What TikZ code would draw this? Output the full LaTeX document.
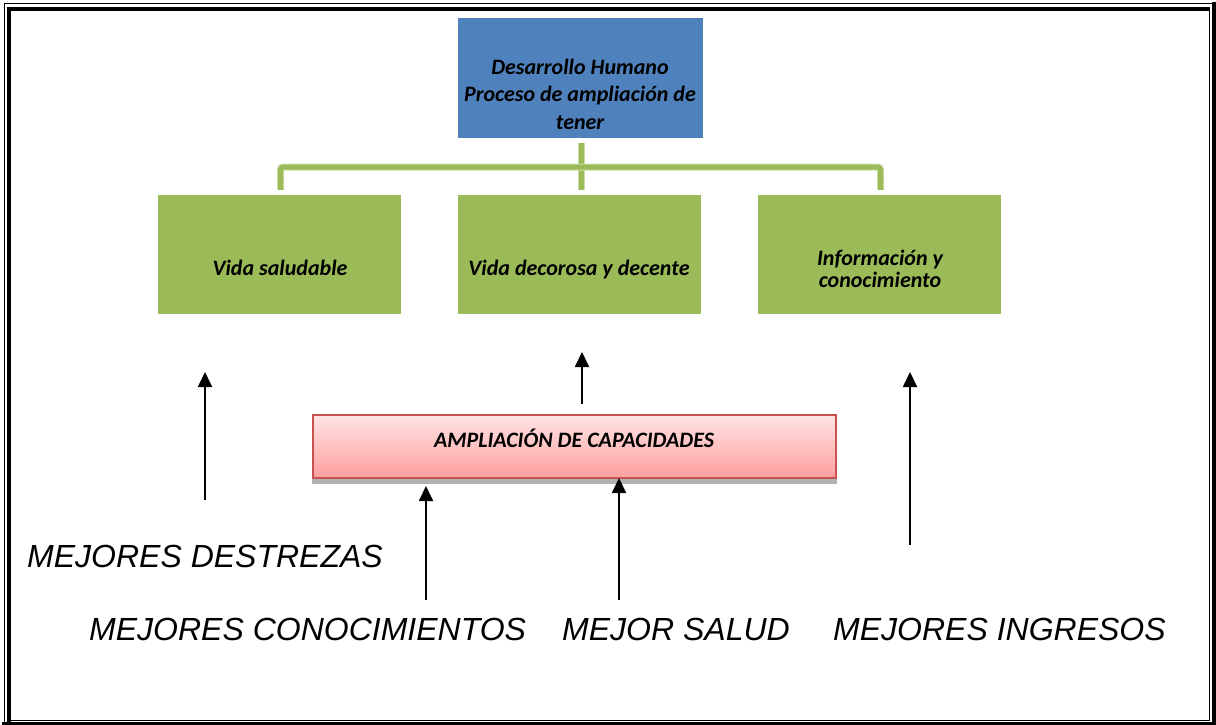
\documentclass[tikz,border=0pt]{standalone}
\usepackage{fontspec}
\setmainfont{Liberation Sans}
\newfontfamily\boxfont{Carlito}
\usetikzlibrary{arrows.meta}
\definecolor{hblue}{HTML}{4F81BD}
\definecolor{hgreen}{HTML}{9BBB59}
\definecolor{hgreenlight}{HTML}{C9DCA5}
\definecolor{pinktop}{HTML}{FFE4E4}
\definecolor{pinkbot}{HTML}{FF9E9E}
\definecolor{pinkline}{HTML}{C8524F}
\begin{document}
\begin{tikzpicture}[x=1pt,y=-1pt,
  bigtxt/.style={font=\itshape\fontsize{32}{38}\selectfont, inner sep=0pt, anchor=base west},
  boxtxt/.style={font=\boxfont\bfseries\itshape\fontsize{22}{27.5}\selectfont, inner sep=0pt, align=center},
  greenbox/.style={fill=hgreen, minimum width=243pt, minimum height=119pt, inner sep=0pt},
  bluebox/.style={fill=hblue, minimum width=245pt, minimum height=120pt, inner sep=0pt},
  pinkbox/.style={draw=pinkline, line width=1.2pt, top color=pinktop, bottom color=pinkbot, minimum width=523pt, minimum height=63pt, inner sep=0pt},
  conn/.style={draw=hgreenlight, line width=1pt, double=hgreen, double distance=5pt, rounded corners=3pt},
  uparrow/.style={line width=1.8pt, -{Triangle[width=14pt,length=15pt]}},
  framethin/.style={line width=1pt},
  framethick/.style={line width=4pt},
]
\useasboundingbox (0,0) rectangle (1216,725);
\fill[white] (0,0) rectangle (1216,725);

% frame
\draw[framethin] (4,725) -- (4,4) -- (1216,4);
\draw[framethick] (9,722) -- (9,9) -- (1210,9);
\draw[framethin] (1209.5,9) -- (1209.5,720) -- (9,720);
\draw[framethick] (1213.5,2) -- (1213.5,724) -- (2,724);

% top box
\node[bluebox] (dh) at (580,78) {};
\node[boxtxt] (dhtext) at (580,94) {Desarrollo Humano\\Proceso de ampliación de\\tener};

% green boxes
\node[greenbox] (vs) at (279.5,254.5) {};
\node[greenbox] (vd) at (579.5,254.5) {};
\node[greenbox] (ic) at (879.5,254.5) {};
\node[boxtxt, anchor=base] (vstext) at (280,275) {Vida saludable};
\node[boxtxt, anchor=base] (vdtext) at (579,275) {Vida decorosa y decente};
\node[boxtxt, font=\boxfont\bfseries\itshape\fontsize{22}{22.5}\selectfont] (ictext) at (880,269) {Información y\\conocimiento};

% connectors
\coordinate (hub) at (581,167);
\draw[conn] ([yshift=-5pt]dh.south -| hub) -- ([yshift=5pt]vd.north -| hub);
\draw[conn] ([xshift=1pt,yshift=5pt]vs.north) |- (hub) -| ([xshift=1pt,yshift=5pt]ic.north);

% pink box
\node[pinkbox] (amp) at (574.5,446.5) {};
\fill[gray!60] ([yshift=-0.6pt]amp.south west) rectangle ([yshift=-5pt]amp.south east);
\node[boxtxt, anchor=base] (amptext) at (574,447) {AMPLIACIÓN DE CAPACIDADES};

% arrows
\coordinate (a1s) at (205,500); \coordinate (a1e) at (205,372);
\coordinate (a2s) at (582,404); \coordinate (a2e) at (582,352);
\coordinate (a3s) at (910,545); \coordinate (a3e) at (910,372);
\coordinate (a4s) at (426,600); \coordinate (a4e) at (426,486);
\coordinate (a5s) at (619,600); \coordinate (a5e) at (619,478);
\draw[uparrow] (a1s) -- (a1e);
\draw[uparrow] (a2s) -- (a2e);
\draw[uparrow] (a3s) -- (a3e);
\draw[uparrow] (a4s) -- (a4e);
\draw[uparrow] (a5s) -- (a5e);

% labels
\node[bigtxt] (l1) at (27,567) {MEJORES DESTREZAS};
\node[bigtxt] (l2) at (89,640) {MEJORES CONOCIMIENTOS};
\node[bigtxt] (l3) at (562,640) {MEJOR SALUD};
\node[bigtxt] (l4) at (833,640) {MEJORES INGRESOS};
\end{tikzpicture}
\end{document}
